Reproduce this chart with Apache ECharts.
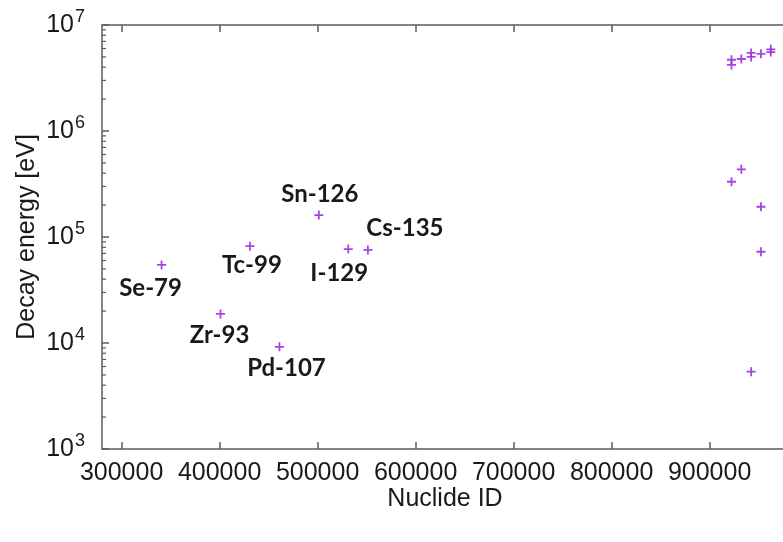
<!DOCTYPE html>
<html>
<head>
<meta charset="utf-8">
<script src="https://cdn.jsdelivr.net/npm/echarts@6/dist/echarts.min.js"></script>
<style>
  html, body { margin: 0; padding: 0; background: #ffffff; }
  #chart { width: 783px; height: 542px; }
</style>
</head>
<body>
<div id="chart"></div>
<script>
// Nuclide identifiers (ZZAAA0) and their decay energies in eV
const nuclideIds = [
  340790, 400930, 430990, 461070, 501260, 531290, 551350,
  922340, 922380, 922350, 932370, 932390,
  942390, 942400, 942410,
  952410, 952420, 952440,
  962440, 962450
];
const decayEnergies = [
  54500, 18800, 82000, 9200, 161000, 77000, 75500,
  4700000, 4200000, 332000, 4780000, 435000,
  5450000, 5000000, 5360,
  5350000, 193000, 72600,
  5900000, 5550000
];
// Names printed next to the long-lived fission products
const nuclideNames = [
  'Se-79', 'Zr-93', 'Tc-99', 'Pd-107', 'Sn-126', 'I-129', 'Cs-135'
];

// Axis ticks
const xTickValues = [300000, 400000, 500000, 600000, 700000, 800000, 900000];
const yDecades = [1e3, 1e4, 1e5, 1e6, 1e7];

const X_MIN = 280000, X_MAX = 980000;
const AXIS_COLOR = '#5c5c5c';
const TEXT_COLOR = '#1a1a1a';
const MARK_COLOR = '#a030e0';

// Label placement relative to its marker [dx, dy]
const labelOffsets = {
  'Se-79':  [-11, 23],
  'Zr-93':  [-1, 21],
  'Tc-99':  [2, 19],
  'Pd-107': [7, 21],
  'Sn-126': [1, -21],
  'I-129':  [-9, 24],
  'Cs-135': [37, -22]
};

// Logarithmic minor ticks (2..9 x 10^k) between the decades
const yMinorTicks = [];
for (let i = 0; i < yDecades.length - 1; i++) {
  for (let m = 2; m <= 9; m++) yMinorTicks.push(m * yDecades[i]);
}

const crossSymbol = 'path://M3.6,0H5.4V3.6H9V5.4H5.4V9H3.6V5.4H0V3.6H3.6Z';

const pointData = nuclideIds.map((id, i) => {
  const name = nuclideNames[i];
  const item = { value: [id, decayEnergies[i]], name: name || '' };
  if (name) {
    item.label = { show: true, offset: labelOffsets[name] };
  }
  return item;
});

const chart = echarts.init(document.getElementById('chart'), null, { renderer: 'canvas' });

const axisLineStyle = { color: AXIS_COLOR, width: 1.5 };

chart.setOption({
  animation: false,
  backgroundColor: '#ffffff',
  grid: {
    left: 102, top: 25, right: -5, bottom: 93,
    containLabel: false,
    outerBoundsMode: 'none'
  },
  xAxis: [
    {
      type: 'value',
      position: 'bottom',
      min: X_MIN, max: X_MAX,
      name: 'Nuclide ID',
      nameLocation: 'middle',
      nameGap: 38,
      nameMoveOverlap: false,
      nameTextStyle: { fontFamily: 'Liberation Sans', fontSize: 25, color: TEXT_COLOR },
      axisLine: { show: true, lineStyle: axisLineStyle },
      axisTick: { show: true, inside: true, length: 7, lineStyle: axisLineStyle, customValues: xTickValues },
      axisLabel: {
        show: true, margin: 12,
        fontFamily: 'Liberation Sans', fontSize: 25, color: TEXT_COLOR,
        customValues: xTickValues,
        formatter: v => String(v)
      },
      splitLine: { show: false }
    },
    {
      type: 'value',
      position: 'top',
      min: X_MIN, max: X_MAX,
      axisLine: { show: true, lineStyle: axisLineStyle },
      axisTick: { show: true, inside: true, length: 7, lineStyle: axisLineStyle, customValues: xTickValues },
      axisLabel: { show: false, customValues: xTickValues },
      splitLine: { show: false }
    }
  ],
  yAxis: {
    type: 'log',
    logBase: 10,
    min: yDecades[0], max: yDecades[yDecades.length - 1],
    name: 'Decay energy [eV]',
    nameLocation: 'middle',
    nameGap: 62,
    nameMoveOverlap: false,
    nameRotate: 90,
    nameTextStyle: { fontFamily: 'Liberation Sans', fontSize: 25, color: TEXT_COLOR },
    axisLine: { show: true, lineStyle: axisLineStyle },
    axisTick: { show: true, inside: true, length: 7, lineStyle: axisLineStyle },
    axisLabel: {
      show: true, margin: 17,
      formatter: v => '{b|10}{s|' + Math.round(Math.log10(v)) + '}',
      rich: {
        b: { fontFamily: 'Liberation Sans', fontSize: 25, color: TEXT_COLOR },
        s: { fontFamily: 'Liberation Sans', fontSize: 18, color: TEXT_COLOR, padding: [0, 0, 16, 1] }
      }
    },
    splitLine: { show: false }
  },
  series: [
    {
      type: 'scatter',
      xAxisIndex: 0,
      yAxisIndex: 0,
      symbol: crossSymbol,
      symbolSize: 9,
      itemStyle: { color: MARK_COLOR, opacity: 0.9 },
      label: {
        show: false,
        position: 'inside',
        formatter: p => p.name,
        fontFamily: 'Lato',
        fontWeight: 'bold',
        fontSize: 24,
        color: '#000000'
      },
      emphasis: { disabled: true },
      data: pointData,
      z: 5
    },
    {
      // minor ticks of the logarithmic axis
      type: 'custom',
      xAxisIndex: 0,
      yAxisIndex: 0,
      silent: true,
      clip: false,
      data: yMinorTicks.map(v => [X_MIN, v]),
      encode: { x: 0, y: 1 },
      renderItem: (params, api) => {
        const p = api.coord([api.value(0), api.value(1)]);
        return {
          type: 'line',
          shape: { x1: p[0], y1: p[1], x2: p[0] + 4, y2: p[1] },
          style: { stroke: AXIS_COLOR, lineWidth: 1.2 }
        };
      },
      z: 3
    }
  ]
});
</script>
</body>
</html>
